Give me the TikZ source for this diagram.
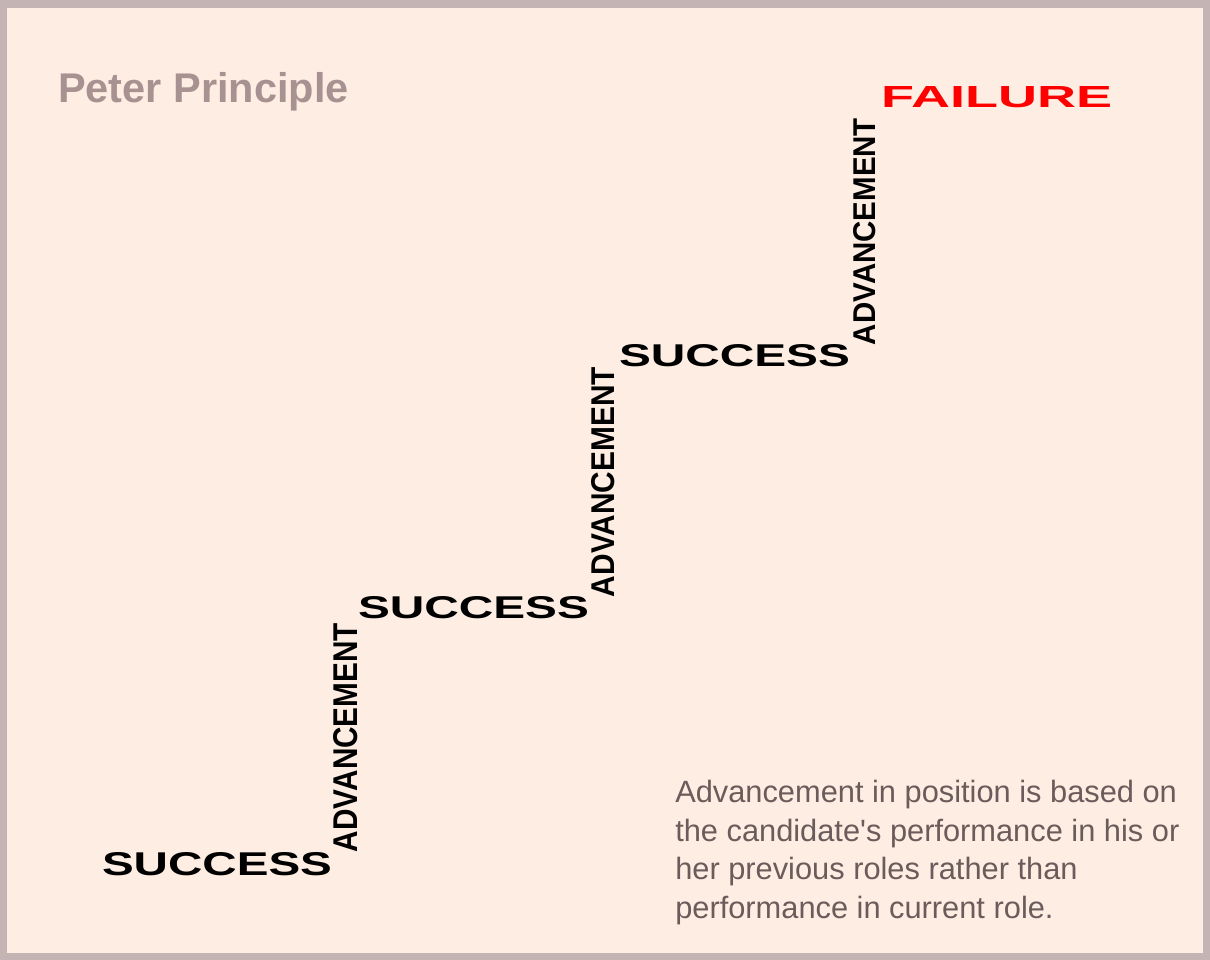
\documentclass[tikz,border=0pt]{standalone}
\usepackage{fontspec}
\setmainfont{Liberation Sans}
\usepackage{graphicx}
\newlength\pxu
\setlength\pxu{0.75pt}
\newcommand\fitword[3]{\resizebox{#1\pxu}{#2\pxu}{\bfseries #3}}
\newcommand\fitup[3]{\rotatebox{90}{\resizebox{#1\pxu}{#2\pxu}{\bfseries #3}}}
\definecolor{framegray}{RGB}{196,180,180}
\definecolor{peach}{RGB}{254,237,226}
\definecolor{titlecol}{RGB}{168,145,145}
\definecolor{bodycol}{RGB}{107,92,92}
\definecolor{failred}{RGB}{255,0,0}
\begin{document}
\begin{tikzpicture}[x=0.75pt,y=-0.75pt,
  word/.style={inner sep=0pt, outer sep=0pt, anchor=south west, text=black},
  failword/.style={word, text=failred},
  titletext/.style={inner sep=0pt, anchor=base west, text=titlecol,
    font=\fontsize{31.1}{36}\selectfont\bfseries},
  bodytext/.style={inner sep=0pt, anchor=north west, text=bodycol, align=left,
    font=\fontsize{23.1}{28.9}\selectfont}]
\useasboundingbox (0,0) rectangle (1210,960);
\fill[framegray] (0,0) rectangle (1210,960);
\fill[peach] (7,8) rectangle (1203,953);

\node[titletext] (title) at (58,102) {Peter Principle};

\node[word] (s1) at (102,876) {\fitword{230}{23}{SUCCESS}};
\node[word] (a1) at (333,852) {\fitup{229}{24}{ADVANCEMENT}};
\node[word] (s2) at (358,619) {\fitword{231}{22}{SUCCESS}};
\node[word] (a2) at (591,597) {\fitup{230}{23}{ADVANCEMENT}};
\node[word] (s3) at (619,367) {\fitword{231}{22}{SUCCESS}};
\node[word] (a3) at (853,345) {\fitup{227}{22}{ADVANCEMENT}};
\node[failword] (f) at (881,108) {\fitword{231}{21}{FAILURE}};

\node[bodytext] (note) at (675,780) {Advancement in position is based on\\
the candidate\textquotesingle s performance in his or\\
her previous roles rather than\\
performance in current role.};
\end{tikzpicture}
\end{document}
